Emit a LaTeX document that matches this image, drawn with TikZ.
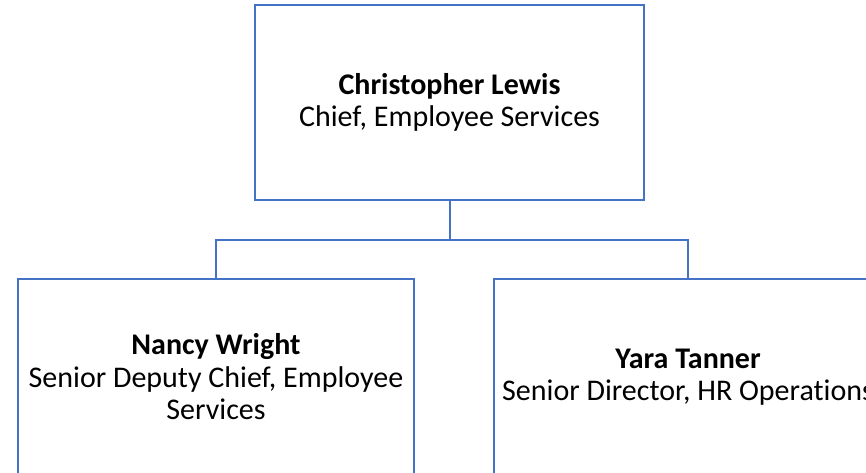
\documentclass[tikz,border=0pt]{standalone}
\usepackage{fontspec}
\setmainfont{Carlito}
\definecolor{boxblue}{HTML}{4472C4}
\begin{document}
\begin{tikzpicture}[x=1pt,y=-1pt,
  orgbox/.style={draw=boxblue,line width=2pt,rectangle,align=center,inner sep=0pt,
    font=\fontsize{30}{32.5}\selectfont},
  link/.style={draw=boxblue,line width=2pt}]
\useasboundingbox (0,0) rectangle (866,472);
\node[orgbox,minimum width=389pt,minimum height=195pt] (top) at (449.5,102.5)
  {\textbf{Christopher Lewis}\\Chief, Employee Services};
\node[orgbox,minimum width=396pt,minimum height=196pt] (left) at (216,377)
  {\textbf{Nancy Wright}\\Senior Deputy Chief, Employee\\Services};
\node[orgbox,minimum width=388pt,minimum height=196pt] (right) at (688,377)
  {\textbf{Yara Tanner}\\Senior Director, HR Operat\kern0pt ions};
\coordinate (j) at (449.5,240);
\draw[link] (top.south) -- (j);
\draw[link] (left.north) |- (j) -| (right.north);
\end{tikzpicture}
\end{document}
